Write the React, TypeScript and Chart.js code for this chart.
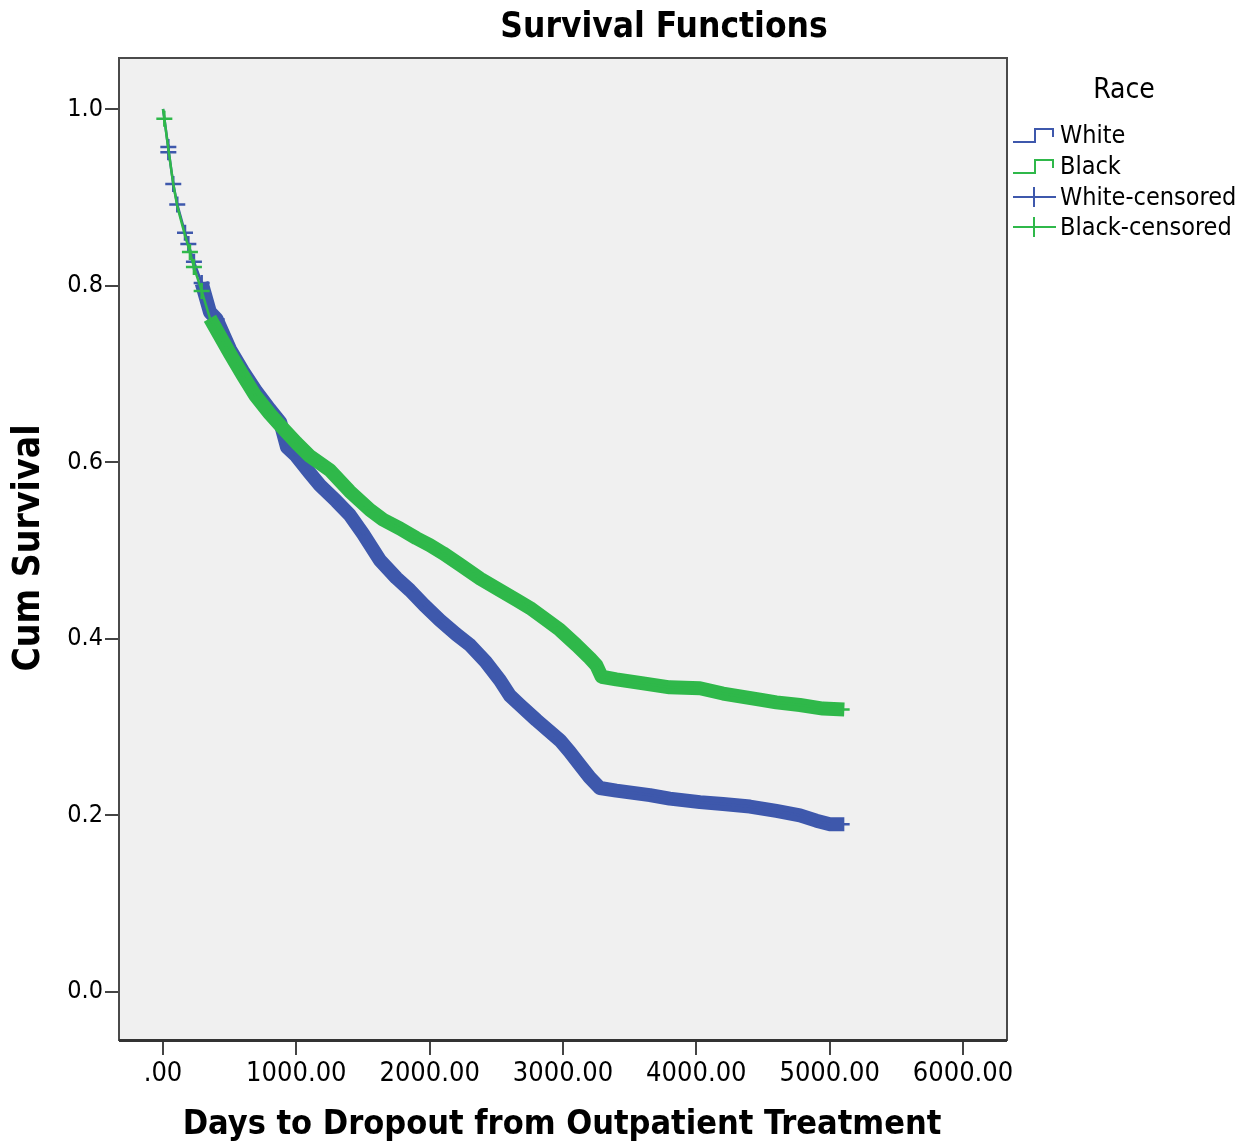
import React, { useEffect, useRef } from 'react';
import { Chart, registerables } from 'chart.js';

Chart.register(...registerables);

// ---- data ----
const whiteDays = [0, 10, 40, 77, 107, 165, 190, 232, 290, 352, 402, 502, 600, 700, 800, 880, 930, 1000, 1100, 1177, 1300, 1402, 1500, 1627, 1750, 1852, 1960, 2077, 2200, 2302, 2420, 2527, 2600, 2677, 2800, 2977, 3050, 3127, 3200, 3277, 3400, 3652, 3800, 4027, 4200, 4402, 4600, 4777, 4900, 5002, 5110, 5150];
const whiteSurv = [1.0, 0.99, 0.955, 0.915, 0.892, 0.86, 0.847, 0.827, 0.803, 0.77, 0.762, 0.728, 0.703, 0.68, 0.66, 0.645, 0.617, 0.607, 0.588, 0.574, 0.556, 0.54, 0.519, 0.489, 0.469, 0.455, 0.438, 0.421, 0.405, 0.393, 0.374, 0.353, 0.336, 0.325, 0.308, 0.285, 0.272, 0.257, 0.243, 0.231, 0.228, 0.223, 0.219, 0.215, 0.213, 0.21, 0.205, 0.2, 0.194, 0.19, 0.19, 0.19];

const blackDays = [0, 10, 40, 77, 107, 165, 202, 232, 290, 352, 420, 502, 600, 690, 800, 877, 1000, 1100, 1252, 1400, 1552, 1650, 1777, 1900, 2002, 2100, 2227, 2380, 2527, 2652, 2752, 2870, 2977, 3100, 3202, 3250, 3290, 3400, 3577, 3800, 4027, 4200, 4477, 4600, 4777, 4950, 5110, 5150];
const blackSurv = [1.0, 0.989, 0.955, 0.915, 0.89, 0.857, 0.838, 0.821, 0.794, 0.763, 0.745, 0.723, 0.698, 0.676, 0.655, 0.642, 0.622, 0.607, 0.591, 0.567, 0.546, 0.535, 0.525, 0.514, 0.506, 0.497, 0.484, 0.468, 0.455, 0.444, 0.435, 0.422, 0.41, 0.393, 0.378, 0.37, 0.357, 0.354, 0.35, 0.345, 0.344, 0.338, 0.331, 0.328, 0.325, 0.321, 0.32, 0.32];

// sparse censored marks in the early part
const whiteCensDays = [40, 40, 77, 107, 165, 190, 232, 290, 402];
const whiteCensSurv = [0.957, 0.951, 0.915, 0.892, 0.86, 0.847, 0.827, 0.803, 0.762];
const blackCensDays = [10, 202, 232, 290];
const blackCensSurv = [0.989, 0.838, 0.821, 0.794];

// dense censored marks form a band over this range
const whiteBandRange = [290, 5110];
const blackBandRange = [340, 5110];

const xTicks = [0, 1000, 2000, 3000, 4000, 5000, 6000];
const xTickLabels = ['.00', '1000.00', '2000.00', '3000.00', '4000.00', '5000.00', '6000.00'];
const yTicks = [0, 0.2, 0.4, 0.6, 0.8, 1.0];
const yTickLabels = ['0.0', '0.2', '0.4', '0.6', '0.8', '1.0'];

const legendLabels = ['White', 'Black', 'White-censored', 'Black-censored'];

const BLUE = '#3e58ac';
const GREEN = '#2fb84a';
const FONT = '"DejaVu Sans Condensed", "DejaVu Sans", sans-serif';

function pts(days: number[], surv: number[]) {
  return days.map((d, i) => ({ x: d, y: surv[i] }));
}
function band(days: number[], surv: number[], r: number[]) {
  return pts(days, surv).filter((p) => p.x >= r[0] && p.x <= r[1]);
}

const decorPlugin = {
  id: 'decor',
  beforeDraw(chart: any) {
    const { ctx, chartArea: a, width, height } = chart;
    ctx.save();
    ctx.fillStyle = '#ffffff';
    ctx.fillRect(0, 0, width, height);
    ctx.fillStyle = '#f0f0f0';
    ctx.fillRect(a.left, a.top, a.right - a.left, a.bottom - a.top);
    ctx.restore();
  },
  afterDraw(chart: any) {
    const { ctx, chartArea: a } = chart;
    ctx.save();
    // plot border
    ctx.strokeStyle = '#4a4a4a';
    ctx.lineWidth = 2;
    ctx.strokeRect(a.left, a.top, a.right - a.left, a.bottom - a.top);
    ctx.strokeStyle = '#333';
    ctx.lineWidth = 3;
    ctx.beginPath();
    ctx.moveTo(a.left, a.bottom + 0.5);
    ctx.lineTo(a.right, a.bottom + 0.5);
    ctx.stroke();

    // title
    ctx.fillStyle = '#000';
    ctx.textAlign = 'center';
    ctx.textBaseline = 'middle';
    ctx.font = `bold 35px ${FONT}`;
    ctx.fillText('Survival Functions', 664, 28);

    // axis titles
    ctx.font = `bold 34px ${FONT}`;
    ctx.fillText('Days to Dropout from Outpatient Treatment', 562, 1125);
    ctx.save();
    ctx.translate(29, 548);
    ctx.rotate(-Math.PI / 2);
    ctx.font = `bold 37px ${FONT}`;
    ctx.fillText('Cum Survival', 0, 0);
    ctx.restore();

    // legend
    ctx.font = `28px ${FONT}`;
    ctx.fillText('Race', 1124, 91);
    ctx.font = `25px ${FONT}`;
    ctx.textAlign = 'left';
    const ys = [135, 166, 197, 227];
    const cols = [BLUE, GREEN, BLUE, GREEN];
    legendLabels.forEach((lab, i) => {
      const y = ys[i];
      ctx.strokeStyle = cols[i];
      ctx.lineWidth = 2;
      ctx.beginPath();
      if (i < 2) {
        ctx.moveTo(1013, y + 7);
        ctx.lineTo(1035, y + 7);
        ctx.lineTo(1035, y - 6);
        ctx.lineTo(1053, y - 6);
        ctx.lineTo(1053, y + 2);
      } else {
        ctx.moveTo(1013, y);
        ctx.lineTo(1056, y);
        ctx.moveTo(1034, y - 10);
        ctx.lineTo(1034, y + 10);
      }
      ctx.stroke();
      ctx.fillStyle = '#000';
      ctx.fillText(lab, 1060, y + 1);
    });
    ctx.restore();
  },
};

export default function App() {
  const ref = useRef<HTMLCanvasElement | null>(null);

  useEffect(() => {
    document.body.style.margin = '0';
    const canvas = ref.current!;
    const chart = new Chart(canvas, {
      type: 'line',
      data: {
        datasets: [
          {
            label: 'White band',
            data: band(whiteDays, whiteSurv, whiteBandRange),
            borderColor: BLUE,
            borderWidth: 14,
            pointRadius: 0,
            tension: 0,
            borderJoinStyle: 'round',
            order: 6,
          },
          {
            label: 'White',
            data: pts(whiteDays, whiteSurv),
            borderColor: BLUE,
            borderWidth: 2.5,
            pointRadius: 0,
            tension: 0,
            order: 5,
          },
          {
            label: 'White-censored',
            data: pts(whiteCensDays, whiteCensSurv),
            borderColor: BLUE,
            backgroundColor: BLUE,
            showLine: false,
            pointStyle: 'cross',
            pointRadius: 8,
            pointBorderWidth: 2.5,
            order: 4,
          },
          {
            label: 'Black band',
            data: band(blackDays, blackSurv, blackBandRange),
            borderColor: GREEN,
            borderWidth: 14,
            pointRadius: 0,
            tension: 0,
            borderJoinStyle: 'round',
            order: 3,
          },
          {
            label: 'Black',
            data: pts(blackDays, blackSurv),
            borderColor: GREEN,
            borderWidth: 2.5,
            pointRadius: 0,
            tension: 0,
            order: 2,
          },
          {
            label: 'Black-censored',
            data: pts(blackCensDays, blackCensSurv),
            borderColor: GREEN,
            backgroundColor: GREEN,
            showLine: false,
            pointStyle: 'cross',
            pointRadius: 8,
            pointBorderWidth: 2.5,
            order: 1,
          },
        ],
      },
      options: {
        responsive: false,
        animation: false,
        parsing: false as any,
        layout: { padding: { top: 58, right: 234, left: 0, bottom: 0 } },
        plugins: {
          legend: { display: false },
          title: { display: false },
          tooltip: { enabled: false },
        },
        scales: {
          x: {
            type: 'linear',
            min: -330,
            max: 6330,
            afterBuildTicks: (s: any) => {
              s.ticks = xTicks.map((v) => ({ value: v }));
            },
            afterFit: (s: any) => {
              s.height = 105;
            },
            ticks: {
              callback: (_v: any, i: number) => xTickLabels[i],
              font: { family: FONT, size: 27 },
              color: '#000',
              padding: 3,
              maxRotation: 0,
              autoSkip: false,
            },
            grid: {
              display: true,
              drawOnChartArea: false,
              drawTicks: true,
              tickLength: 15,
              color: '#444',
              lineWidth: 2,
            },
            border: { display: false },
          },
          y: {
            type: 'linear',
            min: -0.0544,
            max: 1.0578,
            afterBuildTicks: (s: any) => {
              s.ticks = yTicks.map((v) => ({ value: v }));
            },
            afterFit: (s: any) => {
              s.width = 119;
            },
            ticks: {
              callback: (_v: any, i: number) => yTickLabels[i],
              font: { family: FONT, size: 25 },
              color: '#000',
              padding: 2,
              autoSkip: false,
            },
            grid: {
              display: true,
              drawOnChartArea: false,
              drawTicks: true,
              tickLength: 14,
              color: '#444',
              lineWidth: 2,
            },
            border: { display: false },
          },
        },
      },
      plugins: [decorPlugin],
    } as any);
    return () => chart.destroy();
  }, []);

  return (
    <div style={{ width: 1241, height: 1145 }}>
      <canvas ref={ref} width={1241} height={1145} style={{ display: 'block' }} />
    </div>
  );
}
